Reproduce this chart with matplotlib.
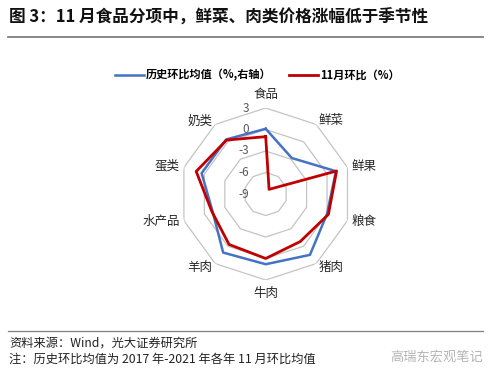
import numpy as np
import matplotlib
matplotlib.use('Agg')
import matplotlib.pyplot as plt
from matplotlib.lines import Line2D

plt.rcParams['font.family'] = ['Noto Sans CJK SC', 'DejaVu Sans']

# data
categories = ['食品', '鲜菜', '鲜果', '粮食', '猪肉', '牛肉', '羊肉', '水产品', '蛋类', '奶类']
hist_avg = [0.1, -2.8, 1.3, 0.0, 1.5, 0.8, 1.1, -1.2, 0.4, 0.4]
nov_mom = [-1.0, -8.2, 1.4, 0.2, -0.8, 0.0, -0.3, -1.1, 1.2, 0.3]
ring_levels = [3, 0, -3, -6, -9]
r_min, r_max = -9, 3

fig = plt.figure(figsize=(5, 3.74), dpi=100)

# center ~ (266, 194) px, radius ~ 86 px
cx, cy, rad = 265.7 / 500, 1 - 194 / 374, 86
ax = fig.add_axes([cx - rad / 500, cy - rad / 374, 2 * rad / 500, 2 * rad / 374],
                  projection='polar')
ax.set_theta_zero_location('N')
ax.set_theta_direction(-1)
ax.set_ylim(r_min, r_max)
ax.grid(False)
ax.spines['polar'].set_visible(False)
ax.set_xticks([])
ax.set_yticks([])
ax.patch.set_alpha(0)

n = len(categories)
angles = np.linspace(0, 2 * np.pi, n, endpoint=False)
closed = np.append(angles, angles[0])

# polygon grid rings
for lev in ring_levels[:-1]:
    ax.plot(closed, [lev] * (n + 1), color='#c4c4c4', lw=0.9, zorder=1)

# ring labels along the top axis
for lev in ring_levels:
    ax.annotate(str(lev), xy=(0, lev), xytext=(-12, 0),
                textcoords='offset points', ha='right', va='center',
                fontsize=8.5, color='#595959')

ax.plot(closed, hist_avg + hist_avg[:1], color='#4472C4', lw=1.8, zorder=3)
ax.plot(closed, nov_mom + nov_mom[:1], color='#C00000', lw=2.0, zorder=4)

# category labels
for ang, name in zip(angles, categories):
    s, c = np.sin(ang), np.cos(ang)
    ha = 'left' if s > 0.1 else ('right' if s < -0.1 else 'center')
    va = 'bottom' if c > 0.9 else ('top' if c < -0.9 else 'center')
    r = 4.0 if abs(s) < 0.1 else 3.6
    ax.text(ang, r, name, ha=ha, va=va, fontsize=9, color='#262626')

# legend
handles = [Line2D([], [], color='#4472C4', lw=1.8),
           Line2D([], [], color='#C00000', lw=2.0)]
fig.legend(handles, ['历史环比均值（%,右轴）', '11月环比（%）'],
           loc='center', bbox_to_anchor=(0.515, 1 - 75 / 374), ncol=2,
           frameon=False, handlelength=2.6, handletextpad=0.2, columnspacing=1.6,
           prop={'size': 8, 'weight': 'bold'})

# title and rules
fig.text(0.018, 1 - 18 / 374, '图 3：11 月食品分项中，鲜菜、肉类价格涨幅低于季节性',
         fontsize=12, fontweight='bold', ha='left', va='center', color='#111111')
fig.add_artist(Line2D([0.016, 0.966], [1 - 37 / 374] * 2, color='#7f7f7f', lw=1.3))
fig.add_artist(Line2D([0.016, 0.966], [1 - 331 / 374] * 2, color='#7f7f7f', lw=0.9))

# footer
fig.text(0.018, 1 - 343 / 374, '资料来源：Wind，光大证券研究所',
         fontsize=8.8, ha='left', va='center', color='#222222')
fig.text(0.018, 1 - 359 / 374, '注：历史环比均值为 2017 年-2021 年各年 11 月环比均值',
         fontsize=8.8, ha='left', va='center', color='#222222')
fig.text(0.966, 1 - 357 / 374, '高瑞东宏观笔记',
         fontsize=9.5, ha='right', va='center', color='#b5b5b5')

fig.savefig('out.png', dpi=100)
